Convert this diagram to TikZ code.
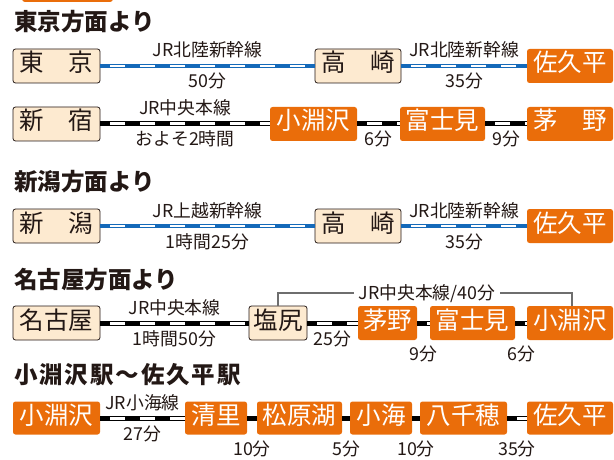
\documentclass[tikz,border=0pt]{standalone}
\usepackage{fontspec}
\setmainfont{Noto Sans CJK JP}
\usepackage{tikz}

\definecolor{ink}{RGB}{35,24,21}
\definecolor{cream}{RGB}{253,234,208}
\definecolor{jrorange}{RGB}{234,109,10}
\definecolor{shinblue}{RGB}{20,105,185}
\definecolor{brkgray}{RGB}{110,110,110}

\begin{document}
\begin{tikzpicture}[x=1pt,y=-1pt,
		every node/.style={text height=1.2em,text depth=0pt,inner sep=0pt},
		stn/.style={draw=ink,fill=cream,rounded corners=2.5pt,line width=0.8pt,minimum height=34pt,text=ink,font=\fontsize{24.5}{25}\selectfont},
		dest/.style={fill=jrorange,rounded corners=2.5pt,minimum height=34pt,text=white,font=\fontsize{24.5}{25}\selectfont},
		head/.style={anchor=west,text=ink,font=\fontsize{23.5}{24}\selectfont\bfseries},
		lbl/.style={text=ink,font=\fontsize{17.8}{18}\selectfont},
		up/.style={lbl,yshift=15pt},
		dn/.style={lbl,yshift=-16pt},
		dnn/.style={lbl,yshift=-31pt},
		shin/.style={draw=shinblue,line width=4.5pt,postaction={draw=white,line width=2pt,dash pattern=on 15pt off 15pt,dash phase=20pt}},
		jr/.style={draw=black,line width=5pt,postaction={draw=white,line width=3pt,dash pattern=on 15pt off 15pt,dash phase=20pt}}]
		\useasboundingbox (0,0) rectangle (614,460);
		\fill[jrorange,rounded corners=3pt] (22,-6) rectangle (113,2);

		% from Tokyo
		\node[head] (h1) at (14,25) {東京方面より};
		\node[stn,minimum width=87pt] (tokyo) at (56.5,66) {東　京};
		\node[stn,minimum width=86pt] (takasaki1) at (358,66) {高　崎};
		\node[dest,minimum width=86pt] (sakudaira1) at (570,66) {佐久平};
		\node[stn,minimum width=87pt] (shinjuku) at (56.5,124) {新　宿};
		\node[dest,minimum width=87pt] (kobuchizawa1) at (313.5,124) {小淵沢};
		\node[dest,minimum width=85pt] (fujimi1) at (442.5,124) {富士見};
		\node[dest,minimum width=86pt] (chino1) at (570,124) {茅　野};
		\path
		(tokyo) edge[shin] node[up] {JR北陸新幹線} node[dn] {50分} (takasaki1)
		(takasaki1) edge[shin] node[up] {JR北陸新幹線} node[dn] {35分} (sakudaira1)
		;
		\path
		(shinjuku) edge[jr] node[up] {JR中央本線} node[dn] {およそ2時間} (kobuchizawa1)
		(kobuchizawa1) edge[jr] node[dn] {6分} (fujimi1)
		(fujimi1) edge[jr] node[dn] {9分} (chino1)
		;

		% from Niigata
		\node[head] (h2) at (14,184) {新潟方面より};
		\node[stn,minimum width=87pt] (niigata) at (56.5,226) {新　潟};
		\node[stn,minimum width=86pt] (takasaki2) at (358,226) {高　崎};
		\node[dest,minimum width=86pt] (sakudaira2) at (570,226) {佐久平};
		\path
		(niigata) edge[shin] node[up] {JR上越新幹線} node[dn] {1時間25分} (takasaki2)
		(takasaki2) edge[shin] node[up] {JR北陸新幹線} node[dn] {35分} (sakudaira2)
		;

		% from Nagoya
		\node[head] (h3) at (14,282) {名古屋方面より};
		\node[stn,minimum width=87pt] (nagoya) at (56.5,323) {名古屋};
		\node[stn,minimum width=58pt] (shiojiri) at (278,323) {塩尻};
		\node[dest,minimum width=59pt] (chino2) at (387.5,323) {茅野};
		\node[dest,minimum width=85pt] (fujimi2) at (472.5,323) {富士見};
		\node[dest,minimum width=86pt] (kobuchizawa2) at (570,323) {小淵沢};
		\path
		(nagoya) edge[jr] node[up] {JR中央本線} node[dn] {1時間50分} (shiojiri)
		(shiojiri) edge[jr] node[dn] {25分} (chino2)
		(chino2) edge[jr] node[dnn] {9分} (fujimi2)
		(fujimi2) edge[jr] node[dnn] {6分} (kobuchizawa2)
		;
		\coordinate (brk) at (427,293);
		\draw[brkgray,line width=1.2pt] (shiojiri.north) |- (brk) node[lbl,fill=white,inner xsep=5pt] {JR中央本線/40分} -| ([xshift=2pt]kobuchizawa2.north);

		% Kobuchizawa - Sakudaira
		\node[head] (h4) at (14,377) {\addfontfeature{LetterSpace=8}小淵沢駅〜佐久平駅};
		\node[dest,minimum width=87pt,minimum height=33pt] (kobuchizawa3) at (56.5,418) {小淵沢};
		\node[dest,minimum width=62pt,minimum height=33pt] (kiyosato) at (216,418) {清里};
		\node[dest,minimum width=85pt,minimum height=33pt] (matsubarako) at (299.5,418) {松原湖};
		\node[dest,minimum width=62pt,minimum height=33pt] (koumi) at (381,418) {小海};
		\node[dest,minimum width=87pt,minimum height=33pt] (yachiho) at (463.5,418) {八千穂};
		\node[dest,minimum width=86pt,minimum height=33pt] (sakudaira3) at (570,418) {佐久平};
		\path
		(kobuchizawa3) edge[jr] node[up] {JR小海線} node[dn] {27分} (kiyosato)
		(kiyosato) edge[jr] node[dnn] {10分} (matsubarako)
		(matsubarako) edge[jr] node[dnn] {5分} (koumi)
		(koumi) edge[jr] node[dnn] {10分} (yachiho)
		(yachiho) edge[jr] node[dnn] {35分} (sakudaira3)
		;
	\end{tikzpicture}
\end{document}
